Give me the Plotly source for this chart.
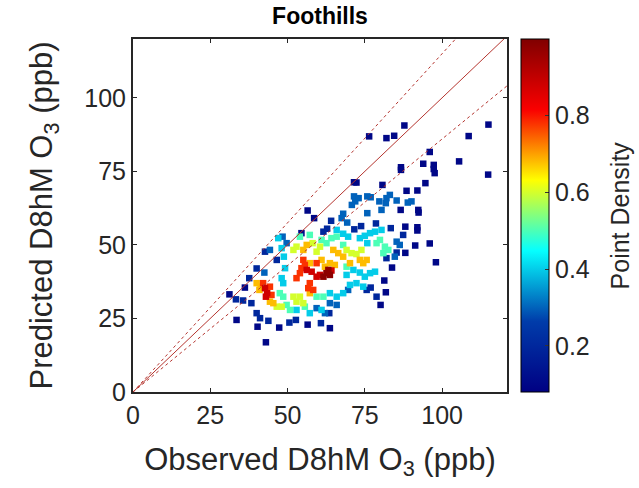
import plotly.graph_objects as go

# Observed / predicted D8hM O3 (ppb) and point density
observed = [
    # density ~0.10
    87.8, 76.4, 82.0, 84.5, 115.0, 108.6, 96.0, 93.9, 97.3, 97.3, 97.6, 105.5, 114.9, 86.7, 86.7,
    94.6, 80.7, 71.5, 72.3, 88.5, 92.0, 86.6, 92.3, 92.4, 88.1, 92.0, 92.0, 91.3, 96.0, 88.1,
    98.0, 83.8, 81.3, 81.8, 80.1, 56.5, 58.6, 54.5, 33.5, 40.3, 43.0, 47.3, 56.5, 63.7, 31.2, 36.2,
    # ~0.20
    64.1, 78.6, 83.4, 87.4, 73.8, 71.6, 76.9, 33.3, 35.6, 38.3, 40.0, 41.1, 43.8, 50.6, 52.7,
    60.8, 63.5, 42.7, 40.0, 46.5, 37.6, 75.6, 78.8, 85.3, 82.0, 62.8, 61.6,
    # ~0.30
    71.5, 71.9, 73.0, 70.8, 75.8, 76.9, 79.7, 82.0, 83.1, 81.8, 80.4, 75.8, 85.3, 88.9, 90.1,
    68.0, 67.5, 69.3, 85.3, 86.3, 84.7, 69.6, 63.7, 65.9, 62.1, 59.4, 44.3, 42.5, 49.7, 48.4,
    # ~0.40
    65.9, 68.0, 69.6, 73.4, 75.0, 75.8, 76.7, 78.3, 80.4, 70.2, 72.3, 74.5, 71.3, 73.4, 75.0,
    76.7, 78.3, 69.1, 63.7, 65.9, 68.0, 61.0, 48.6, 48.1, 49.2, 48.8, 47.0, 48.1, 52.9, 57.2,
    # ~0.50
    78.8, 79.9, 81.5, 82.6, 81.0, 61.0, 62.6, 64.2, 65.9, 69.1, 48.6, 47.5, 50.8, 49.7, 55.6,
    59.4, 61.6, 68.0, 54.0, 57.2,
    # ~0.60
    69.1, 70.7, 72.3, 73.9, 51.9, 52.9, 54.0, 55.1, 48.1, 46.5, 58.1, 59.4, 60.5, 51.9, 52.9,
    # ~0.68
    64.8, 66.4, 68.0, 70.2, 73.4, 74.5, 75.6, 55.1, 56.2, 57.2, 45.4, 44.3, 40.0, 41.3, 40.9,
    57.2, 63.7, 65.3, 62.1, 61.0,
    # ~0.78
    52.9, 54.0, 54.5, 55.6, 55.1, 57.2, 56.7, 58.3, 59.4, 42.1, 44.3, 44.8,
    # ~0.88
    42.7, 43.4, 43.0, 56.2, 57.8, 59.4, 60.5, 64.2,
    # ~0.98
    61.6, 62.6, 63.7, 63.2,
]
predicted = [
    90.6, 86.9, 86.3, 87.1, 90.9, 87.0, 81.6, 77.6, 77.2, 75.8, 74.4, 78.4, 73.9, 76.4, 75.5,
    71.0, 70.4, 71.3, 71.2, 68.4, 68.5, 61.9, 61.9, 61.0, 56.2, 56.0, 54.9, 49.8, 50.5, 47.3,
    44.1, 42.3, 37.9, 33.9, 29.6, 61.7, 59.1, 54.0, 24.5, 22.2, 16.9, 21.9, 22.9, 21.7, 33.2, 35.5,
    58.2, 57.3, 55.7, 53.4, 56.4, 55.3, 35.5, 31.5, 31.1, 30.2, 26.8, 25.1, 24.2, 23.6, 24.5,
    23.4, 26.8, 47.7, 42.0, 44.9, 38.7, 34.7, 32.4, 47.4, 45.5, 55.5, 54.5,
    66.5, 64.8, 65.9, 63.6, 66.5, 66.2, 64.8, 65.9, 67.0, 64.2, 61.9, 60.8, 65.1, 64.4, 64.8,
    60.6, 59.1, 57.6, 51.1, 50.0, 46.0, 34.7, 30.2, 29.6, 26.8, 28.5, 48.3, 40.6, 50.6, 52.8,
    55.1, 53.8, 52.8, 52.3, 53.1, 50.6, 54.0, 54.5, 55.1, 36.4, 37.0, 35.8, 41.5, 40.6, 39.2,
    40.4, 40.9, 39.8, 33.6, 32.4, 33.6, 27.9, 37.0, 38.7, 42.1, 46.0, 52.3, 48.9, 27.9, 26.8,
    50.6, 51.7, 49.4, 48.3, 47.2, 51.7, 50.6, 52.3, 52.8, 42.6, 32.4, 33.6, 27.9, 29.6, 29.0,
    32.4, 32.4, 50.0, 52.8, 53.4,
    48.3, 47.2, 46.9, 48.3, 32.4, 30.7, 32.4, 30.2, 29.0, 29.0, 50.6, 47.7, 49.4, 48.3, 49.4,
    48.3, 47.2, 46.0, 43.8, 44.9, 43.8, 44.9, 48.3, 50.0, 43.8, 30.2, 30.7, 37.0, 35.8, 34.7,
    33.6, 43.8, 43.2, 42.6, 44.9,
    38.7, 40.4, 42.1, 43.2, 44.9, 37.0, 35.3, 34.7, 43.8, 37.0, 35.8, 33.0,
    35.3, 33.6, 32.4, 41.5, 40.9, 39.2, 39.8, 41.3,
    39.2, 40.4, 39.8, 41.5,
]
density = (
    [0.10] * 46 + [0.20] * 27 + [0.30] * 30 + [0.40] * 30 + [0.50] * 20
    + [0.60] * 15 + [0.68] * 20 + [0.78] * 12 + [0.88] * 8 + [0.98] * 4
)

line_x = [0, 121]
ref_slopes = {"one_to_one": 1.0, "upper": 1.15, "lower": 0.86}
x_ticks = [0, 25, 50, 75, 100]
y_ticks = [0, 25, 50, 75, 100]
cbar_ticks = [0.2, 0.4, 0.6, 0.8]

FONT = "Liberation Sans, Arial, sans-serif"
TXT = "#262626"
LINE_COLOR = "#b5352f"

fig = go.Figure()
fig.add_trace(go.Scatter(
    x=observed, y=predicted, mode="markers",
    marker=dict(
        symbol="square", size=6.5, color=density, colorscale="Jet",
        cmin=0.08, cmax=1.0, line=dict(width=0),
        colorbar=dict(
            x=1.037, xanchor="left", xpad=0, y=0.5, yanchor="middle", ypad=0,
            len=1.0, lenmode="fraction",
            thickness=28, outlinecolor="black", outlinewidth=1,
            tickvals=cbar_ticks, ticktext=[f"{v:.1f}" for v in cbar_ticks],
            ticks="inside", ticklen=4, tickcolor="#333",
            tickfont=dict(family=FONT, size=25, color=TXT),
        ),
    ),
    showlegend=False, hoverinfo="skip",
))
for name, s in ref_slopes.items():
    fig.add_trace(go.Scatter(
        x=line_x, y=[v * s for v in line_x], mode="lines",
        line=dict(color=LINE_COLOR, width=1, dash="solid" if name == "one_to_one" else "3px,3px"),
        showlegend=False, hoverinfo="skip", cliponaxis=True,
    ))

axis_common = dict(
    showgrid=False, zeroline=False, showline=True, linecolor=TXT, linewidth=2,
    mirror="ticks", ticks="inside", ticklen=4, tickcolor=TXT,
    tickfont=dict(family=FONT, size=25, color=TXT),
)
fig.update_xaxes(range=[0, 121], tickvals=x_ticks, **axis_common,
                 title=dict(text="Observed D8hM O<sub>3</sub> (ppb)",
                            font=dict(family=FONT, size=31, color=TXT), standoff=20))
fig.update_yaxes(range=[0, 120], tickvals=y_ticks, **axis_common,
                 title=dict(text="Predicted D8hM O<sub>3</sub> (ppb)",
                            font=dict(family=FONT, size=31, color=TXT), standoff=22))

fig.add_annotation(
    text="Point Density", textangle=-90, showarrow=False,
    xref="paper", yref="paper", x=1.302, y=0.5, xanchor="center", yanchor="middle",
    font=dict(family=FONT, size=25, color=TXT),
)

fig.update_layout(
    width=639, height=488,
    margin=dict(l=133, r=132, t=39, b=96),
    paper_bgcolor="white", plot_bgcolor="white",
    title=dict(text="<b>Foothills</b>", x=0.5, xref="paper", xanchor="center",
               y=1, yref="container", yanchor="top", pad=dict(t=8),
               font=dict(family=FONT, size=23, color="black")),
)
fig.write_html("out.html")
